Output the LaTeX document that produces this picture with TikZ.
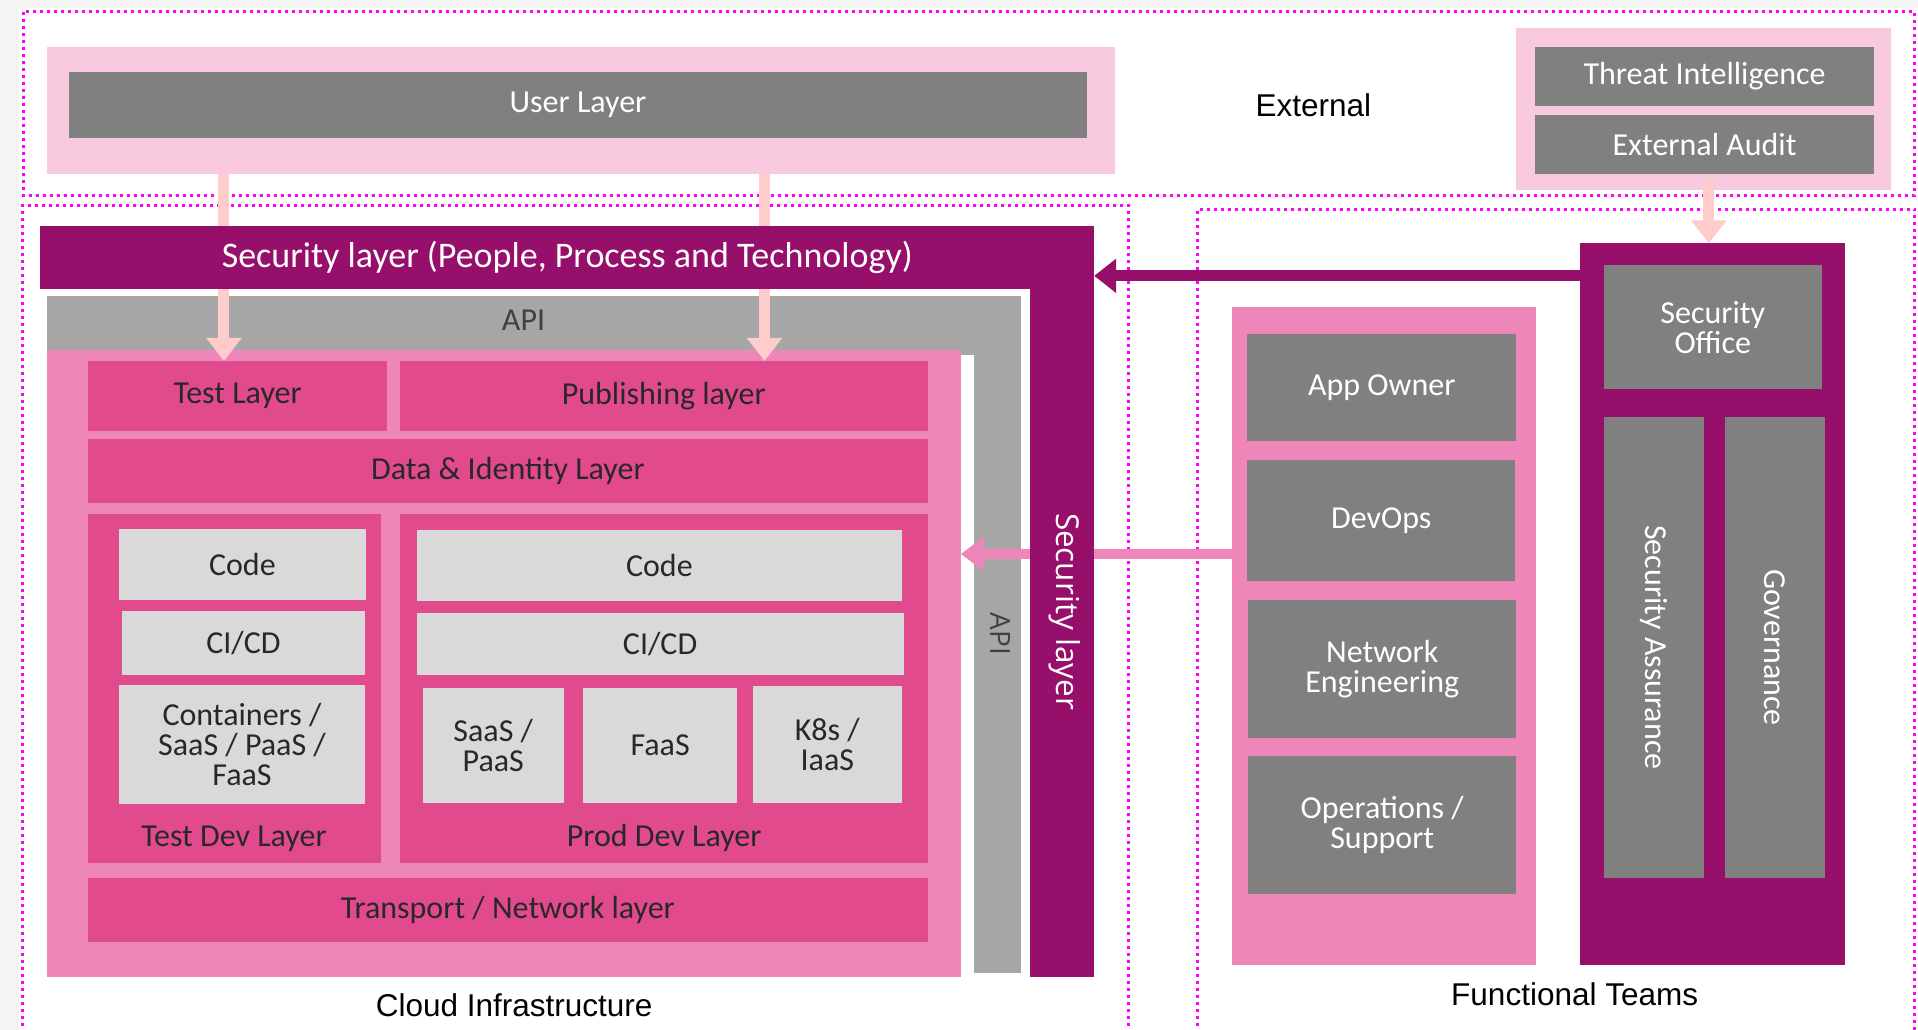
\documentclass[tikz,border=0pt]{standalone}
\usepackage{fontspec}
\setmainfont{Carlito}
\newfontfamily\arialfont{Liberation Sans}
\newfontfamily\sidefont{Open Sans}
\usetikzlibrary{fit,arrows.meta}

\definecolor{secpurple}{RGB}{150,16,107}
\definecolor{hotpink}{RGB}{226,74,142}
\definecolor{midpink}{RGB}{238,134,186}
\definecolor{palepink}{RGB}{249,201,223}
\definecolor{boxgray}{RGB}{128,128,128}
\definecolor{apigray}{RGB}{166,166,166}
\definecolor{softgray}{RGB}{217,217,217}
\definecolor{arrowpink}{RGB}{255,204,204}
\definecolor{darktext}{RGB}{40,40,40}
\definecolor{apitextc}{RGB}{64,64,64}
\definecolor{zonemagenta}{RGB}{255,0,255}
\definecolor{pagegray}{RGB}{244,244,244}

\newcommand\lblfont{\fontsize{32}{30}\selectfont}
\newcommand\bigfont{\fontsize{36}{40}\selectfont}
\newcommand\zonefont{\arialfont\fontsize{31.5}{36}\selectfont}

% a filled block spanning two corners, with its caption centred on it
% #1 name, #2 block style, #3 caption style, #4 #5 corners, #6 caption
\newcommand\blockpanel[6]{%
  \node[#2, fit={#4 #5}] (#1) {};
  \node[caption, #3] (#1-t) at (#1.center) {#6};}

\begin{document}
\begin{tikzpicture}[x=1.2232pt, y=-1.2232pt,
  panel/.style={inner sep=0pt, outer sep=0pt, draw=none},
  graybox/.style={panel, fill=boxgray},
  layerbox/.style={panel, fill=hotpink},
  lightbox/.style={panel, fill=softgray},
  purplebox/.style={panel, fill=secpurple},
  caption/.style={inner sep=0pt, outer sep=0pt, align=center, font=\lblfont},
  oncolour/.style={text=white},
  onlight/.style={text=darktext},
  zonelabel/.style={inner sep=0pt, font=\zonefont, text=black},
  zone/.style={draw=zonemagenta, line width=3pt, dash pattern=on 3pt off 4pt},
  softarrow/.style={draw=arrowpink, line width=11pt, -{Triangle[length=23pt,width=34pt]}},
  pinkarrow/.style={draw=midpink, line width=10pt, -{Triangle[length=23pt,width=33pt]}},
  purplearrow/.style={draw=secpurple, line width=11pt, -{Triangle[length=22pt,width=33pt]}},
  sidelabel/.style={inner sep=0pt, rotate=-90}
]
\useasboundingbox (0,0) rectangle (1568,842);
\fill[pagegray] (0,0) rectangle (1568,842);
\fill[white] (15.5,6.5) rectangle (1568,842);

% zone outlines
\draw[zone] (19.6,9.8) rectangle (1565.3,160);
\draw[zone] (18,850) -- (18,168.2) -- (922.7,168.2) -- (922.7,850);
\draw[zone] (979,850) -- (979,171) -- (1565.3,171) -- (1565.3,850);

% zone titles
\node[zonelabel] (lblext) at (1073.7,85.8) {External};
\node[zonelabel] (lblcloud) at (420.3,821.6) {Cloud Infrastructure};
\node[zonelabel] (lblteams) at (1287.3,812.7) {Functional Teams};

% user layer
\node[panel, fill=palepink, fit={(38.4,38.4) (911.5,142)}] (userzone) {};
\blockpanel{userlayer}{graybox}{oncolour}{(56.4,58.9)}{(888.6,112.6)}{User Layer}

% external sources
\node[panel, fill=palepink, fit={(1239.2,23.2) (1545.8,155.3)}] (extzone) {};
\blockpanel{threat}{graybox}{oncolour}{(1255,38.4)}{(1532,86.7)}{Threat Intelligence}
\blockpanel{audit}{graybox}{oncolour}{(1255,94)}{(1532,142)}{External Audit}

% API frame
\node[panel, fill=apigray, fit={(38.4,242) (834.7,290)}] (apitop) {};
\node[panel, fill=apigray, fit={(796.2,280) (834.7,795.7)}] (apiside) {};
\node[caption, text=apitextc] (apitoplbl) at (428,261.6) {API};
\node[sidelabel, text=apitextc, font=\sidefont\fontsize{28}{32}\selectfont] (apisidelbl) at (818,518.4) {API};

% cloud stack
\node[panel, fill=midpink, fit={(38.4,286.1) (785.5,798.4)}] (cloud) {};
\blockpanel{testlayer}{layerbox}{onlight}{(71.9,295.1)}{(316.6,352.1)}{Test Layer}
\blockpanel{publayer}{layerbox}{onlight}{(326.8,295.1)}{(758.5,352.1)}{Publishing layer}
\blockpanel{datalayer}{layerbox}{onlight}{(71.9,358.9)}{(758.5,411)}{Data \& Identity Layer}
\node[layerbox, fit={(71.9,420.2) (311.8,705.8)}] (testdev) {};
\node[layerbox, fit={(326.8,420.2) (758.5,705.8)}] (proddev) {};
\blockpanel{transport}{layerbox}{onlight}{(71.9,718)}{(758.5,769.9)}{Transport / Network layer}
\node[caption, onlight] (testdevlbl) at (191.3,685.4) {Test Dev Layer};
\node[caption, onlight] (proddevlbl) at (543,685.4) {Prod Dev Layer};

% test dev components
\blockpanel{tdcode}{lightbox}{onlight}{(97.1,432.5)}{(299.2,490.5)}{Code}
\blockpanel{tdcicd}{lightbox}{onlight}{(99.5,499.5)}{(298.6,551.8)}{CI/CD}
\blockpanel{tdrun}{lightbox}{onlight}{(97.1,560)}{(298.6,657)}{Containers /\\SaaS / PaaS /\\FaaS}

% prod dev components
\blockpanel{pdcode}{lightbox}{onlight}{(340.6,433.3)}{(737.5,491)}{Code}
\blockpanel{pdcicd}{lightbox}{onlight}{(340.6,501.1)}{(738.7,551.8)}{CI/CD}
\blockpanel{pdsaas}{lightbox}{onlight}{(345.4,562.7)}{(461.1,656.2)}{SaaS /\\PaaS}
\blockpanel{pdfaas}{lightbox}{onlight}{(476.7,562.7)}{(602.6,656.2)}{FaaS}
\blockpanel{pdk8s}{lightbox}{onlight}{(615.2,560.8)}{(737.5,656.2)}{K8s /\\IaaS}

% user layer feeds test and publishing layers
\coordinate (ua) at (183.1,142);
\coordinate (ub) at (625,142);
\draw[softarrow] (ua) -- (ua |- testlayer.north);
\draw[softarrow] (ub) -- (ub |- publayer.north);

% teams reach into the cloud stack
\coordinate (pa) at (1007.4,452.9);
\draw[pinkarrow] (pa) -- (pa -| cloud.east);

% security layer wrapping the stack
\node[purplebox, fit={(841.8,230) (894.5,798.4)}] (secside) {};
\node[purplebox, fit={(33,184.8) (894.5,236)}] (secbar) {};
\node[caption, oncolour, font=\bigfont] (secbarlbl) at (secbar.center) {Security layer (People, Process and Technology)};
\node[sidelabel, oncolour, font=\sidefont\fontsize{31.5}{36}\selectfont] (secsidelbl) at (870,500) {Security layer};

% functional teams
\node[panel, fill=midpink, fit={(1007.4,250.8) (1255.3,789.2)}] (teams) {};
\blockpanel{appowner}{graybox}{oncolour}{(1019.5,273.1)}{(1239.7,360.3)}{App Owner}
\blockpanel{devops}{graybox}{oncolour}{(1019.5,375.9)}{(1238.9,475.2)}{DevOps}
\blockpanel{neteng}{graybox}{oncolour}{(1020.3,490.5)}{(1239.7,603.1)}{Network\\Engineering}
\blockpanel{ops}{graybox}{oncolour}{(1020.3,618)}{(1239.7,730.6)}{Operations /\\Support}

% security office
\node[purplebox, fit={(1291.7,199) (1508.7,789.2)}] (secoffice) {};
\blockpanel{office}{graybox}{oncolour}{(1311.3,216.6)}{(1489.1,318.4)}{Security\\Office}
\node[graybox, fit={(1311.3,340.7) (1393,717.7)}] (assurance) {};
\node[graybox, fit={(1409.8,340.7) (1492,717.7)}] (governance) {};
\node[sidelabel, oncolour, font=\lblfont] (assurancelbl) at (assurance.center) {Security Assurance};
\node[sidelabel, oncolour, font=\lblfont] (governancelbl) at (governance.center) {Governance};

% external audit feeds the security office, which feeds the security layer
\coordinate (ea) at (1397,147);
\draw[softarrow] (ea) -- (ea |- secoffice.north);
\coordinate (sa) at (1291.7,225.5);
\draw[purplearrow] (sa) -- (sa -| secbar.east);
\end{tikzpicture}
\end{document}
